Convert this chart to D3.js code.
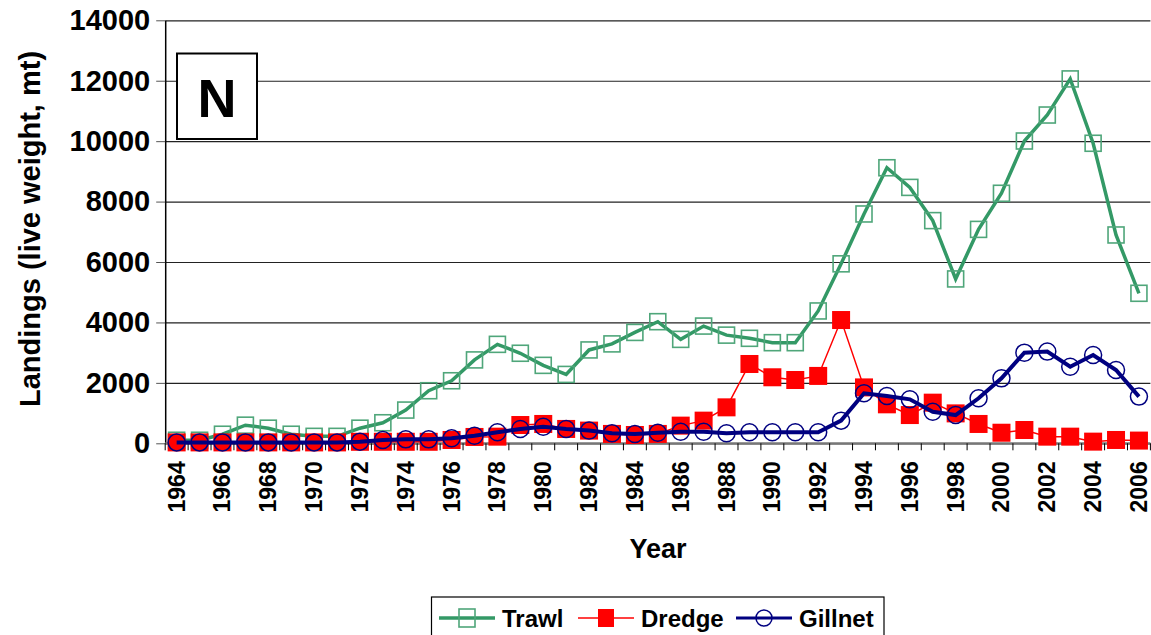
<!DOCTYPE html>
<html>
<head>
<meta charset="utf-8">
<script src="https://cdn.jsdelivr.net/npm/d3@7"></script>
<style>
  body { margin: 0; background: #fff; }
  text { font-family: "Liberation Sans", Arial, sans-serif; font-weight: bold; }
</style>
</head>
<body>
<div id="chart"></div>
<script>
var years = d3.range(1964, 2007);

var trawl = [100, 100, 300, 600, 500, 300, 230, 230, 500, 680, 1100, 1740, 2070, 2760, 3275,
  2980, 2580, 2280, 3090, 3290, 3670, 4025, 3440, 3880, 3580, 3475, 3330, 3330, 4380,
  5940, 7590, 9120, 8470, 7370, 5440, 7080, 8275, 10005, 10865, 12060, 9930, 6895, 4965];

var dredge = [30, 30, 30, 30, 30, 30, 30, 30, 50, 50, 50, 50, 110, 210, 220,
  605, 640, 475, 420, 310, 275, 310, 585, 750, 1190, 2625, 2185, 2095, 2230,
  4080, 1850, 1290, 935, 1345, 990, 640, 350, 440, 220, 220, 55, 110, 90];

var gillnet = [30, 30, 30, 30, 30, 30, 30, 30, 55, 110, 130, 130, 165, 250, 365,
  475, 550, 475, 420, 330, 310, 350, 385, 385, 330, 365, 365, 365, 365,
  750, 1655, 1565, 1455, 1045, 935, 1490, 2150, 3000, 3035, 2535, 2920, 2425, 1545];

var yTicks = [0, 2000, 4000, 6000, 8000, 10000, 12000, 14000];
var labelYears = years.filter(d => d % 2 === 0);

var svgWidth = 1151;
var svgHeight = 635;

var margin = { top: 20.3, left: 165.2 };
var width = 985.2;
var height = 423;

var svg = d3
  .select("#chart")
  .append("svg")
  .attr("width", svgWidth)
  .attr("height", svgHeight);

var chartGroup = svg
  .append("g")
  .attr("transform", `translate(${margin.left}, ${margin.top})`);

var xBandScale = d3.scaleBand().domain(years).range([0, width]).padding(0);
var xCenter = d => xBandScale(d) + xBandScale.bandwidth() / 2;

var yLinearScale = d3.scaleLinear().domain([0, 14000]).range([height, 0]);

// gridlines
chartGroup
  .append("g")
  .call(d3.axisLeft(yLinearScale).tickValues(yTicks).tickSize(-width).tickFormat(""))
  .call(g => g.select(".domain").remove())
  .selectAll("line")
  .attr("stroke", "#222")
  .attr("stroke-width", 1.2);

// y axis
var yAxis = chartGroup
  .append("g")
  .call(d3.axisLeft(yLinearScale)
    .tickValues(yTicks)
    .tickFormat(d3.format("d"))
    .tickSize(9)
    .tickPadding(6)
    .tickSizeOuter(0));
yAxis.select(".domain").attr("stroke", "#000").attr("stroke-width", 1.5);
yAxis.selectAll("line").attr("stroke", "#555");
yAxis.selectAll("text")
  .attr("font-size", "29px")
  .attr("font-weight", "bold")
  .attr("font-family", "Liberation Sans, Arial, sans-serif")
  .attr("fill", "#000");

// x axis line and boundary ticks
var xAxis = chartGroup
  .append("g")
  .attr("transform", `translate(0, ${height})`);

xAxis.append("line")
  .attr("x1", 0)
  .attr("x2", width)
  .attr("stroke", "#777")
  .attr("stroke-width", 2);

xAxis.selectAll(".btick")
  .data(years.concat([null]))
  .enter()
  .append("line")
  .attr("class", "btick")
  .attr("x1", (d, i) => i * xBandScale.bandwidth())
  .attr("x2", (d, i) => i * xBandScale.bandwidth())
  .attr("y1", 0)
  .attr("y2", 7)
  .attr("stroke", "#000")
  .attr("stroke-width", 1);

xAxis.selectAll(".xlabel")
  .data(labelYears)
  .enter()
  .append("text")
  .attr("class", "xlabel")
  .attr("transform", d => `translate(${xCenter(d) + 8}, 18) rotate(-90)`)
  .attr("text-anchor", "end")
  .attr("font-size", "23px")
  .text(d => d);

// series
var lineGen = function(values) {
  return d3.line()
    .x((d, i) => xCenter(years[i]))
    .y(d => yLinearScale(d))(values);
};

// Trawl
chartGroup.append("path")
  .attr("d", lineGen(trawl))
  .attr("fill", "none")
  .attr("stroke", "#339966")
  .attr("stroke-width", 3.5);

chartGroup.selectAll(".trawlPt")
  .data(trawl)
  .enter()
  .append("rect")
  .attr("class", "trawlPt")
  .attr("x", (d, i) => xCenter(years[i]) - 8)
  .attr("y", d => yLinearScale(d) - 8)
  .attr("width", 16)
  .attr("height", 16)
  .attr("fill", "none")
  .attr("stroke", "#4fa67a")
  .attr("stroke-width", 1.6);

// Dredge
chartGroup.append("path")
  .attr("d", lineGen(dredge))
  .attr("fill", "none")
  .attr("stroke", "#ff0000")
  .attr("stroke-width", 1.5);

chartGroup.selectAll(".dredgePt")
  .data(dredge)
  .enter()
  .append("rect")
  .attr("class", "dredgePt")
  .attr("x", (d, i) => xCenter(years[i]) - 9)
  .attr("y", d => yLinearScale(d) - 9)
  .attr("width", 18)
  .attr("height", 18)
  .attr("fill", "#ff0000");

// Gillnet
chartGroup.append("path")
  .attr("d", lineGen(gillnet))
  .attr("fill", "none")
  .attr("stroke", "#000080")
  .attr("stroke-width", 4);

chartGroup.selectAll(".gillPt")
  .data(gillnet)
  .enter()
  .append("circle")
  .attr("class", "gillPt")
  .attr("cx", (d, i) => xCenter(years[i]))
  .attr("cy", d => yLinearScale(d))
  .attr("r", 8.5)
  .attr("fill", "none")
  .attr("stroke", "#000080")
  .attr("stroke-width", 1.5);

// N box
svg.append("rect")
  .attr("x", 177)
  .attr("y", 53.5)
  .attr("width", 80)
  .attr("height", 85.5)
  .attr("fill", "#fff")
  .attr("stroke", "#000")
  .attr("stroke-width", 2);

svg.append("text")
  .attr("x", 217)
  .attr("y", 117)
  .attr("text-anchor", "middle")
  .attr("font-size", "54px")
  .text("N");

// axis titles
svg.append("text")
  .attr("transform", "translate(40, 229) rotate(-90)")
  .attr("text-anchor", "middle")
  .attr("font-size", "29px")
  .text("Landings (live weight, mt)");

svg.append("text")
  .attr("x", 658)
  .attr("y", 558)
  .attr("text-anchor", "middle")
  .attr("font-size", "27px")
  .text("Year");

// legend
var legend = svg.append("g");
legend.append("rect")
  .attr("x", 431.5)
  .attr("y", 597)
  .attr("width", 452.5)
  .attr("height", 50)
  .attr("fill", "#fff")
  .attr("stroke", "#000")
  .attr("stroke-width", 1.2);

var legendItems = [
  { name: "Trawl", x: 439, color: "#339966", w: 3.5, marker: "openSquare" },
  { name: "Dredge", x: 578, color: "#ff0000", w: 1.5, marker: "square" },
  { name: "Gillnet", x: 736, color: "#000080", w: 3, marker: "circle" }
];

legendItems.forEach(function(item) {
  var cy = 618;
  var cx = item.x + 28;
  legend.append("line")
    .attr("x1", item.x)
    .attr("x2", item.x + 56)
    .attr("y1", cy)
    .attr("y2", cy)
    .attr("stroke", item.color)
    .attr("stroke-width", item.w);
  if (item.marker === "openSquare") {
    legend.append("rect")
      .attr("x", cx - 8).attr("y", cy - 9).attr("width", 16).attr("height", 18)
      .attr("fill", "none").attr("stroke", "#4fa67a").attr("stroke-width", 1.6);
  } else if (item.marker === "square") {
    legend.append("rect")
      .attr("x", cx - 8).attr("y", cy - 9).attr("width", 16).attr("height", 18)
      .attr("fill", item.color);
  } else {
    legend.append("circle")
      .attr("cx", cx).attr("cy", cy).attr("r", 8)
      .attr("fill", "none").attr("stroke", item.color).attr("stroke-width", 1.5);
  }
  legend.append("text")
    .attr("x", item.x + 63)
    .attr("y", cy + 9)
    .attr("font-size", "24px")
    .text(item.name);
});
</script>
</body>
</html>
